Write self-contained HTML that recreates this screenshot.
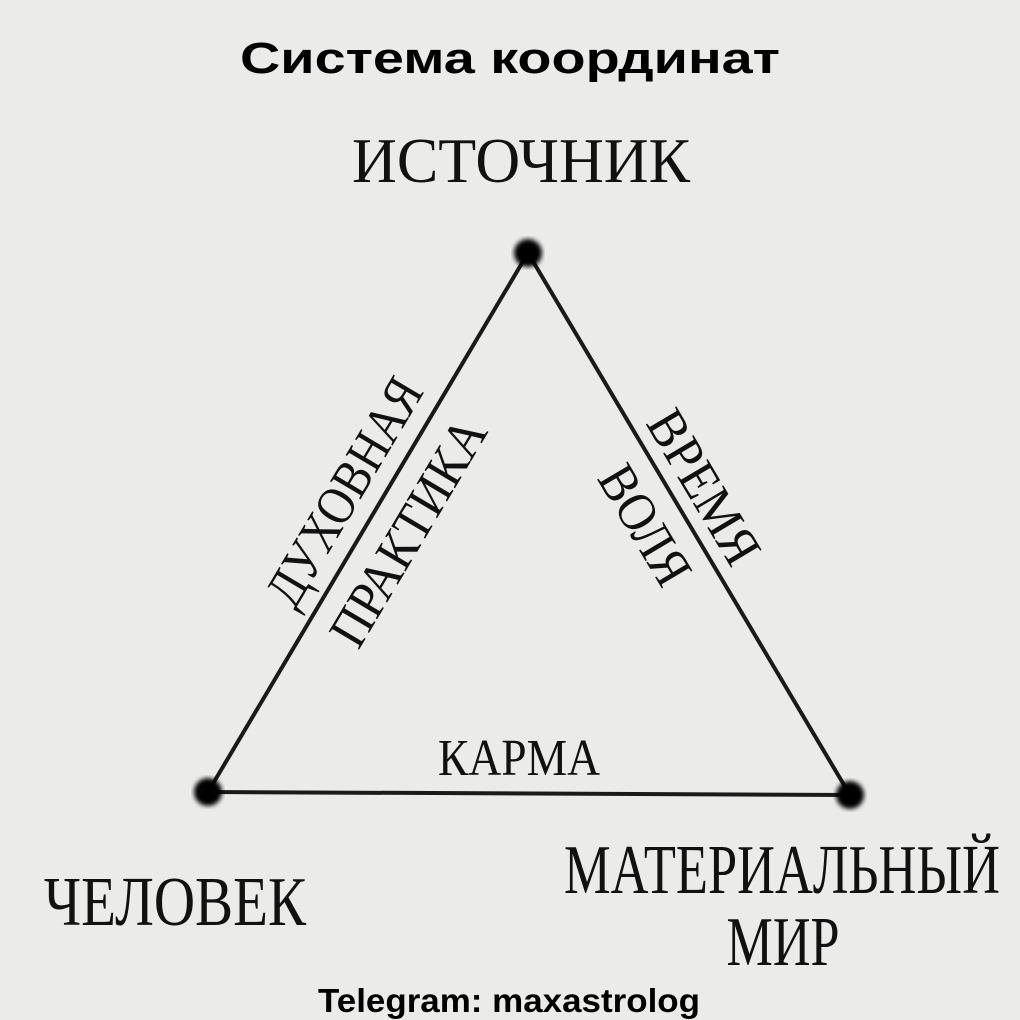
<!DOCTYPE html>
<html><head><meta charset="utf-8"><style>
html,body{margin:0;padding:0;background:#ebebea;}
svg{display:block}
.s{font-family:"Liberation Serif",serif;fill:#111;}
.b{font-family:"Liberation Sans",sans-serif;font-weight:bold;fill:#000;}
</style></head><body>
<svg width="1020" height="1020" viewBox="0 0 1020 1020" xmlns="http://www.w3.org/2000/svg">
<defs><filter id="bl"><feGaussianBlur stdDeviation="2.5"/></filter></defs>
<rect width="1020" height="1020" fill="#ebebea"/>
<text class="b" x="510" y="73" font-size="44" text-anchor="middle" textLength="540" lengthAdjust="spacingAndGlyphs">Система координат</text>
<text class="s" x="521" y="182" font-size="64" text-anchor="middle" textLength="338" lengthAdjust="spacingAndGlyphs">ИСТОЧНИК</text>
<polygon points="528,253 208,792 850,795" fill="none" stroke="#1a1a1a" stroke-width="4" stroke-linejoin="round"/>
<circle cx="528" cy="253" r="14" fill="#000" filter="url(#bl)"/>
<circle cx="208" cy="792" r="14" fill="#000" filter="url(#bl)"/>
<circle cx="850" cy="795" r="14" fill="#000" filter="url(#bl)"/>
<g transform="translate(363,503) rotate(-59.3)">
<text class="s" x="0" y="-4" font-size="54" text-anchor="middle" textLength="255" lengthAdjust="spacingAndGlyphs">ДУХОВНАЯ</text>
</g>
<g transform="translate(408,532) rotate(-59.3)">
<text class="s" x="0" y="18" font-size="54" text-anchor="middle" textLength="255" lengthAdjust="spacingAndGlyphs">ПРАКТИКА</text>
</g>
<g transform="translate(704,487) rotate(59.3)">
<text class="s" x="0" y="18" font-size="54" text-anchor="middle" textLength="170" lengthAdjust="spacingAndGlyphs">ВРЕМЯ</text>
</g>
<g transform="translate(645,525) rotate(59.3)">
<text class="s" x="0" y="18" font-size="54" text-anchor="middle" textLength="130" lengthAdjust="spacingAndGlyphs">ВОЛЯ</text>
</g>
<text class="s" x="519" y="775" font-size="52" text-anchor="middle" textLength="162" lengthAdjust="spacingAndGlyphs">КАРМА</text>
<text class="s" x="175" y="925" font-size="70" text-anchor="middle" textLength="262" lengthAdjust="spacingAndGlyphs">ЧЕЛОВЕК</text>
<text class="s" x="782" y="893" font-size="70" text-anchor="middle" textLength="436" lengthAdjust="spacingAndGlyphs">МАТЕРИАЛЬНЫЙ</text>
<text class="s" x="783" y="965" font-size="70" text-anchor="middle" textLength="113" lengthAdjust="spacingAndGlyphs">МИР</text>
<text class="b" x="509" y="1012" font-size="33" text-anchor="middle" textLength="382" lengthAdjust="spacingAndGlyphs">Telegram: maxastrolog</text>
</svg>
</body></html>
